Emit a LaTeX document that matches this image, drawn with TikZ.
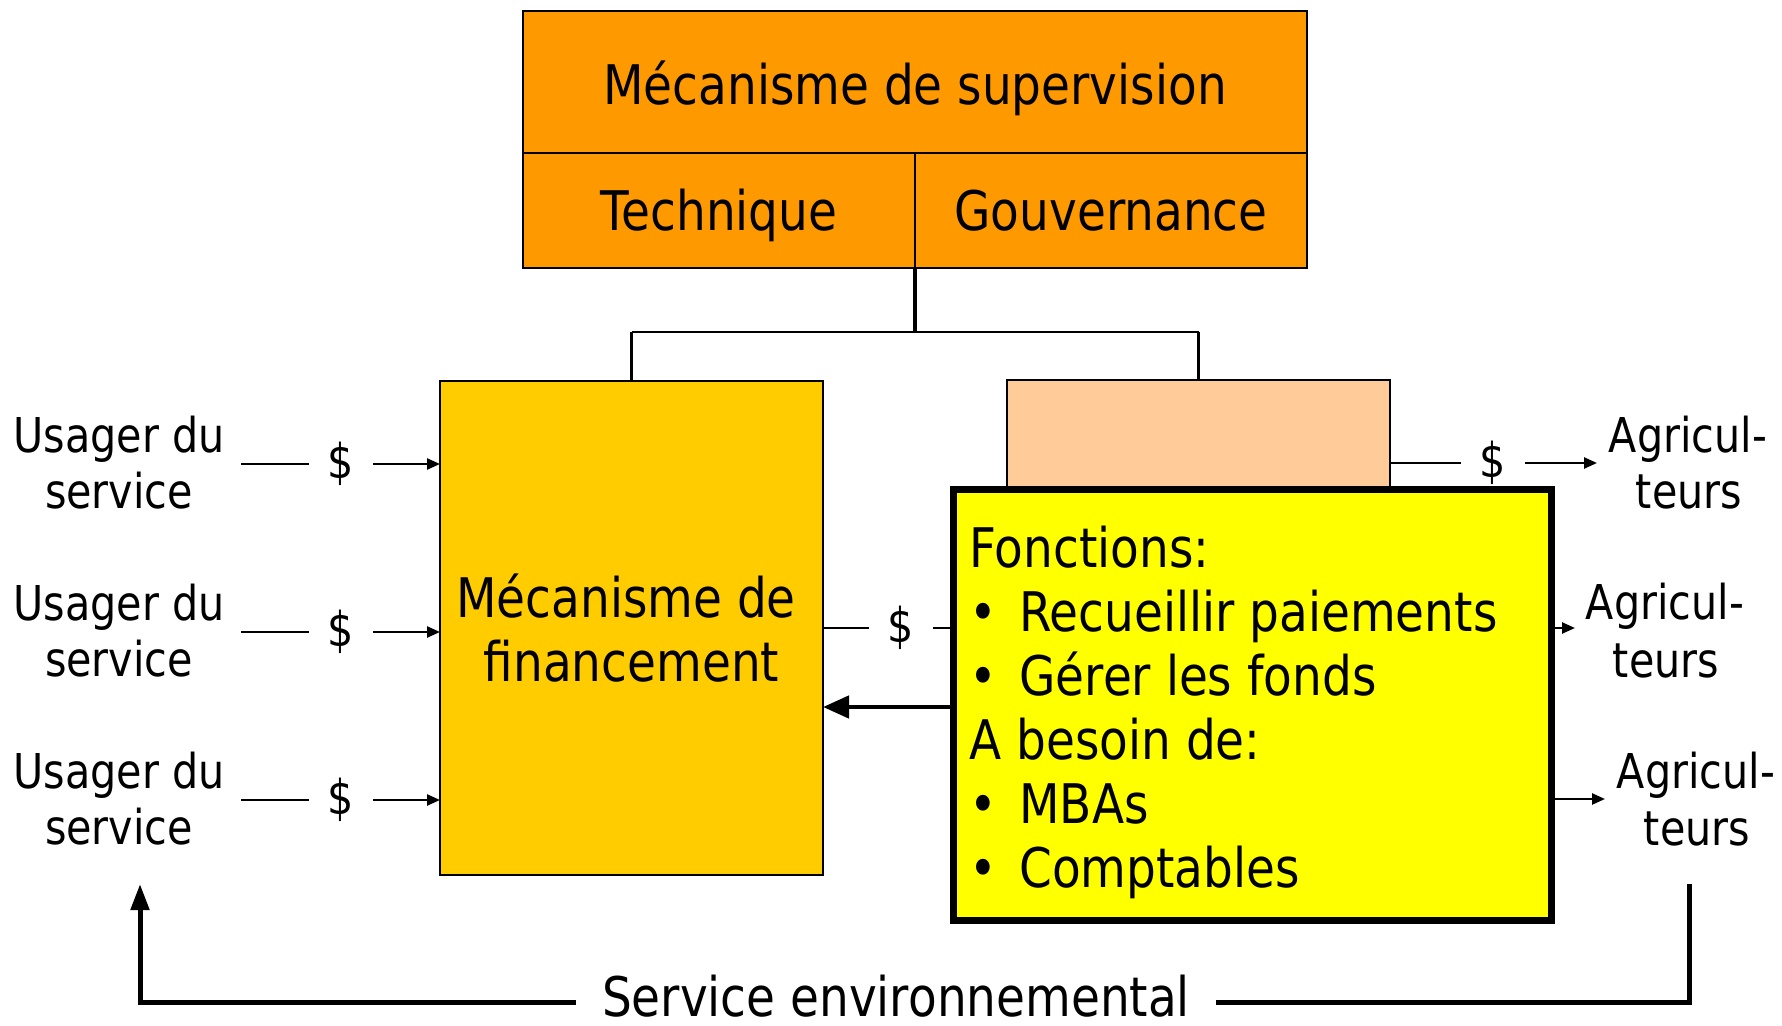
\documentclass[tikz,border=0pt]{standalone}
\usepackage{fontspec}
\setmainfont{DejaVu Sans}[FakeStretch=0.86]
\usetikzlibrary{arrows.meta}
\definecolor{supor}{HTML}{FF9900}
\definecolor{finor}{HTML}{FFCC00}
\definecolor{peach}{HTML}{FFCC99}
\definecolor{ylw}{HTML}{FFFF00}
\begin{document}
\begin{tikzpicture}[x=0.5pt,y=-0.5pt,
 box/.style={draw, line width=0.8pt, inner sep=0pt, outer sep=0pt},
 big/.style={font=\fontsize{27.3}{32}\selectfont, inner sep=0pt, anchor=base},
 lbl/.style={font=\fontsize{24}{28}\selectfont, inner sep=0pt, anchor=base},
 dol/.style={font=\fontsize{24}{28}\selectfont, inner sep=0pt, minimum width=32pt, anchor=center},
 thin/.style={line width=1.2pt},
 tip/.style={-{Triangle[length=6.5pt,width=5.5pt]}},
 loopline/.style={line width=2.5pt},
]
\useasboundingbox (0,0) rectangle (1782,1026);

% supervision boxes
\node[box, fill=supor, minimum width=392pt, minimum height=71pt] (sup) at (915,82) {};
\node[box, fill=supor, minimum width=196pt, minimum height=57.5pt] (tech) at (719,210.5) {};
\node[box, fill=supor, minimum width=196pt, minimum height=57.5pt] (gouv) at (1111,210.5) {};
\node[big] (supt) at (915,105) {Mécanisme de supervision};
\node[big] (techt) at (719,231) {Technique};
\node[big] (gouvt) at (1111,231) {Gouvernance};

% financement box
\node[box, fill=finor, minimum width=191.5pt, minimum height=247pt] (fin) at (631.5,628) {};
\node[big] (fint1) at (626,617) {Mécanisme de};
\node[big] (fint2) at (631.5,681) {financement};

% peach box
\node[box, line width=0.6pt, fill=peach, minimum width=191.5pt, minimum height=70pt] (pch) at (1198.5,450) {};

% tree
\coordinate (j) at (915,332);
\draw[line width=1.8pt] (tech.south east) -- (j);
\draw[line width=1pt] (fin.north |- j) -- (pch.north |- j);
\draw[line width=1.8pt] (fin.north |- j) -- (fin.north);
\draw[line width=1.8pt] (pch.north |- j) -- (pch.north);

% left rows
\foreach \i/\y in {1/464, 2/632, 3/800} {
  \node[lbl] (ua\i) at (119,\y-12) {Usager du};
  \node[lbl] (ub\i) at (119,\y+44) {service};
  \node[dol] (du\i) at (341,\y) {\$};
  \coordinate (us\i) at (241,\y);
  \draw[thin] (us\i) -- (du\i.west);
  \draw[thin,tip] (du\i.east) -- (fin.west |- du\i);
}

% middle row (behind yellow box)
\node[dol] (dm) at (901,628) {\$};
\draw[thin] (fin.east |- dm) -- (dm.west);
\coordinate (am) at (1575,628);
\draw[thin,tip] (dm.east) -- (am);

% top right row
\node[dol] (dt) at (1493,463) {\$};
\coordinate (at) at (1597,463);
\draw[thin] (pch.east |- dt) -- (dt.west);
\draw[thin,tip] (dt.east) -- (at);

% yellow box
\node[draw, line width=3.6pt, fill=ylw, inner sep=0pt, minimum width=299pt, minimum height=215.5pt] (ylw) at (1252.5,705) {};
\node[big, anchor=base west] (f1) at (969,567) {Fonctions:};
\node[big, anchor=base west] (f2) at (969,631) {\makebox[25pt][l]{•}Recueillir paiements};
\node[big, anchor=base west] (f3) at (969,695) {\makebox[25pt][l]{•}Gérer les fonds};
\node[big, anchor=base west] (f4) at (969,759) {A besoin de:};
\node[big, anchor=base west] (f5) at (969,823) {\makebox[25pt][l]{•}MBAs};
\node[big, anchor=base west] (f6) at (969,887) {\makebox[25pt][l]{•}Comptables};

% bottom right arrow
\coordinate (ab) at (1605,799);
\draw[thin,tip] (ylw.east |- ab) -- (ab);

% thick arrow to financement
\coordinate (ty) at (0,707);
\draw[line width=2.3pt, -{Triangle[length=13pt,width=11pt]}] (ylw.west |- ty) -- (fin.east |- ty);

% right labels
\node[lbl] (ra1) at (1688,452) {Agricul-};
\node[lbl] (rb1) at (1689,508) {teurs};
\node[lbl] (ra2) at (1665,619) {Agricul-};
\node[lbl] (rb2) at (1666,677) {teurs};
\node[lbl] (ra3) at (1696,788) {Agricul-};
\node[lbl] (rb3) at (1697,845) {teurs};

% bottom loop
\node[big, inner xsep=13pt] (sev) at (896,1016) {Service environnemental};
\coordinate (rt) at (1689,884);
\coordinate (rbc) at (1689,1002);
\coordinate (lbc) at (140,1002);
\coordinate (ltp) at (140,884);
\draw[loopline] (rt) -- (rbc) -- (sev.east |- rbc);
\draw[loopline, -{Triangle[length=13pt,width=9pt]}] (sev.west |- rbc) -- (lbc) -- (ltp);
\end{tikzpicture}
\end{document}
